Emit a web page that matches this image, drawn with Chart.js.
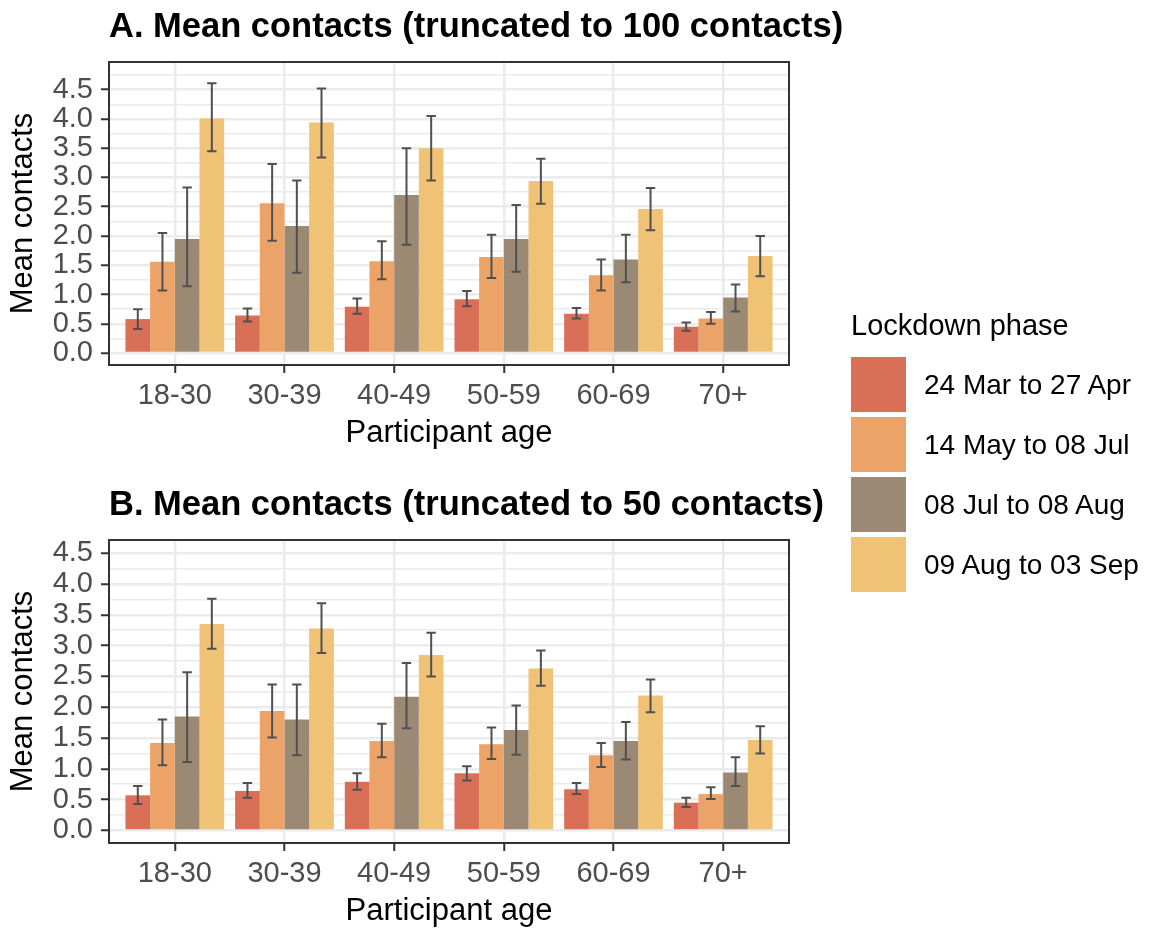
<!DOCTYPE html>
<html>
<head>
<meta charset="utf-8">
<script src="https://cdn.jsdelivr.net/npm/chart.js@4.4.1/dist/chart.umd.min.js"></script>
<style>
  html, body { margin: 0; padding: 0; background: #ffffff; overflow: hidden; }
  body { width: 1168px; height: 932px; position: relative; font-family: "Liberation Sans", Arial, sans-serif; }
  .panel { position: absolute; left: 0; width: 860px; height: 453px; }
  #panelA { top: 0; }
  #panelB { top: 478px; }
  #legend { position: absolute; left: 851px; top: 310px; color: #000; }
  #legend .ltitle { font-size: 29px; line-height: 30px; height: 30px; margin-bottom: 17px; white-space: nowrap; }
  #legend .row { display: flex; align-items: center; height: 55px; margin-bottom: 5px; }
  #legend .key { width: 55px; height: 55px; flex: none; }
  #legend .lab { margin-left: 18px; font-size: 28px; line-height: 55px; white-space: nowrap; }
</style>
</head>
<body>
<div class="panel" id="panelA"><canvas id="chartA" width="860" height="453"></canvas></div>
<div class="panel" id="panelB"><canvas id="chartB" width="860" height="453"></canvas></div>
<div id="legend"></div>
<script>
// Participant age groups (x axis) and lockdown phases (series)
const ageGroups = ['18-30', '30-39', '40-49', '50-59', '60-69', '70+'];
const phases = ['24 Mar to 27 Apr', '14 May to 08 Jul', '08 Jul to 08 Aug', '09 Aug to 03 Sep'];
const phaseColors = ['#DA6F57', '#ECA367', '#9B8973', '#F0C275'];

// A. Mean contacts, truncated to 100 contacts: means and interval bounds per phase
const meanA1 = [0.58, 0.64, 0.79, 0.92, 0.67, 0.45];
const meanA2 = [1.56, 2.56, 1.57, 1.64, 1.33, 0.59];
const meanA3 = [1.95, 2.17, 2.70, 1.95, 1.60, 0.95];
const meanA4 = [4.01, 3.94, 3.50, 2.94, 2.46, 1.66];
const lowA1 = [0.41, 0.54, 0.67, 0.80, 0.59, 0.38];
const lowA2 = [1.07, 1.92, 1.26, 1.28, 1.07, 0.50];
const lowA3 = [1.14, 1.37, 1.85, 1.39, 1.21, 0.71];
const lowA4 = [3.45, 3.34, 2.95, 2.55, 2.10, 1.31];
const highA1 = [0.75, 0.76, 0.93, 1.06, 0.77, 0.52];
const highA2 = [2.05, 3.23, 1.91, 2.02, 1.60, 0.70];
const highA3 = [2.83, 2.95, 3.50, 2.53, 2.02, 1.17];
const highA4 = [4.61, 4.52, 4.05, 3.32, 2.82, 2.00];

// B. Mean contacts, truncated to 50 contacts
const meanB1 = [0.57, 0.64, 0.79, 0.93, 0.67, 0.45];
const meanB2 = [1.42, 1.94, 1.45, 1.40, 1.22, 0.59];
const meanB3 = [1.85, 1.80, 2.17, 1.63, 1.45, 0.94];
const meanB4 = [3.35, 3.28, 2.85, 2.63, 2.19, 1.47];
const lowB1 = [0.43, 0.53, 0.66, 0.81, 0.59, 0.38];
const lowB2 = [1.06, 1.51, 1.19, 1.16, 1.03, 0.51];
const lowB3 = [1.11, 1.22, 1.66, 1.23, 1.15, 0.72];
const lowB4 = [2.95, 2.88, 2.50, 2.35, 1.92, 1.25];
const highB1 = [0.72, 0.77, 0.93, 1.04, 0.77, 0.53];
const highB2 = [1.80, 2.37, 1.73, 1.67, 1.42, 0.70];
const highB3 = [2.57, 2.37, 2.72, 2.03, 1.76, 1.19];
const highB4 = [3.76, 3.69, 3.21, 2.92, 2.45, 1.69];

// y-axis breaks: labelled every 0.5, minor grid every 0.25
const yBreaks = [0, 0.25, 0.5, 0.75, 1, 1.25, 1.5, 1.75, 2, 2.25, 2.5, 2.75, 3, 3.25, 3.5, 3.75, 4, 4.25, 4.5, 4.75];

const FONT = '"Liberation Sans", Arial, sans-serif';
Chart.defaults.font.family = FONT;

const isMajor = v => Math.abs(v * 2 - Math.round(v * 2)) < 1e-6;

// Panel title, drawn just above the plotting area
const panelTitle = {
  id: 'panelTitle',
  afterDraw(chart, args, opts) {
    const {ctx, chartArea} = chart;
    ctx.save();
    ctx.font = 'bold 34.5px ' + FONT;
    ctx.fillStyle = '#000';
    ctx.textBaseline = 'alphabetic';
    ctx.textAlign = 'left';
    ctx.fillText(opts.text, chartArea.left, chartArea.top - 25);
    ctx.restore();
  }
};

// Interval whiskers on every bar
const errorBars = {
  id: 'errorBars',
  afterDatasetsDraw(chart) {
    const {ctx} = chart;
    const yScale = chart.scales.y;
    ctx.save();
    ctx.strokeStyle = '#505050';
    ctx.lineWidth = 2;
    chart.data.datasets.forEach((ds, di) => {
      const meta = chart.getDatasetMeta(di);
      meta.data.forEach((bar, i) => {
        const x = bar.x;
        const half = bar.width * 0.19;
        const yl = yScale.getPixelForValue(ds.low[i]);
        const yh = yScale.getPixelForValue(ds.high[i]);
        ctx.beginPath();
        ctx.moveTo(x, yl); ctx.lineTo(x, yh);
        ctx.moveTo(x - half, yl); ctx.lineTo(x + half, yl);
        ctx.moveTo(x - half, yh); ctx.lineTo(x + half, yh);
        ctx.stroke();
      });
    });
    ctx.restore();
  }
};

// Dark frame around the plotting area
const panelBorder = {
  id: 'panelBorder',
  afterDraw(chart) {
    const {ctx, chartArea: a} = chart;
    ctx.save();
    ctx.strokeStyle = '#333333';
    ctx.lineWidth = 2;
    ctx.strokeRect(a.left, a.top, a.right - a.left, a.bottom - a.top);
    ctx.restore();
  }
};

function buildDatasets(means, lows, highs) {
  return phases.map((label, s) => ({
    label,
    data: means[s].map((v, i) => ({x: i, y: v})),
    low: lows[s],
    high: highs[s],
    backgroundColor: phaseColors[s],
    borderWidth: 0,
    categoryPercentage: 0.9,
    barPercentage: 1.0
  }));
}

function makeChart(canvasId, title, means, lows, highs, yMin, yMax) {
  return new Chart(document.getElementById(canvasId), {
    type: 'bar',
    data: {datasets: buildDatasets(means, lows, highs)},
    plugins: [panelTitle, errorBars, panelBorder],
    options: {
      responsive: false,
      animation: false,
      devicePixelRatio: 1,
      layout: {padding: {top: 62, right: 71, bottom: 0, left: 0}},
      plugins: {
        legend: {display: false},
        tooltip: {enabled: false},
        panelTitle: {text: title}
      },
      scales: {
        x: {
          type: 'linear',
          min: -0.6,
          max: ageGroups.length - 0.4,
          offset: false,
          afterBuildTicks: s => { s.ticks = ageGroups.map((_, i) => ({value: i})); },
          afterFit: s => { s.height = 88; },
          border: {display: false},
          grid: {
            offset: false,
            color: '#EBEBEB',
            lineWidth: 2.5,
            drawTicks: true,
            tickLength: 8,
            tickColor: '#333333',
            tickWidth: 2
          },
          ticks: {
            autoSkip: false,
            maxRotation: 0,
            padding: 6,
            color: '#4D4D4D',
            font: {size: 29},
            callback: v => ageGroups[Math.round(v)] ?? ''
          },
          title: {
            display: true,
            text: 'Participant age',
            color: '#000',
            font: {size: 31},
            padding: {top: 0, bottom: 1}
          }
        },
        y: {
          type: 'linear',
          min: yMin,
          max: yMax,
          afterBuildTicks: s => { s.ticks = yBreaks.filter(v => v <= s.max && v >= s.min).map(v => ({value: v})); },
          afterFit: s => { s.width = 109; },
          border: {display: false},
          grid: {
            color: '#EBEBEB',
            lineWidth: c => isMajor(c.tick.value) ? 2.5 : 1.5,
            drawTicks: true,
            tickLength: 8,
            tickColor: c => isMajor(c.tick.value) ? '#333333' : 'rgba(0,0,0,0)',
            tickWidth: 2
          },
          ticks: {
            autoSkip: false,
            padding: 8,
            color: '#4D4D4D',
            font: {size: 29},
            callback: v => isMajor(v) ? v.toFixed(1) : ''
          },
          title: {
            display: true,
            text: 'Mean contacts',
            color: '#000',
            font: {size: 31},
            padding: {top: 5, bottom: 0}
          }
        }
      }
    }
  });
}

makeChart('chartA', 'A. Mean contacts (truncated to 100 contacts)',
  [meanA1, meanA2, meanA3, meanA4], [lowA1, lowA2, lowA3, lowA4], [highA1, highA2, highA3, highA4],
  -0.205, 4.974);

makeChart('chartB', 'B. Mean contacts (truncated to 50 contacts)',
  [meanB1, meanB2, meanB3, meanB4], [lowB1, lowB2, lowB3, lowB4], [highB1, highB2, highB3, highB4],
  -0.204, 4.715);

// Shared legend for the lockdown phases
const legend = document.getElementById('legend');
const lt = document.createElement('div');
lt.className = 'ltitle';
lt.textContent = 'Lockdown phase';
legend.appendChild(lt);
phases.forEach((p, s) => {
  const row = document.createElement('div');
  row.className = 'row';
  const key = document.createElement('div');
  key.className = 'key';
  key.style.background = phaseColors[s];
  const lab = document.createElement('div');
  lab.className = 'lab';
  lab.textContent = p;
  row.appendChild(key);
  row.appendChild(lab);
  legend.appendChild(row);
});
</script>
</body>
</html>
